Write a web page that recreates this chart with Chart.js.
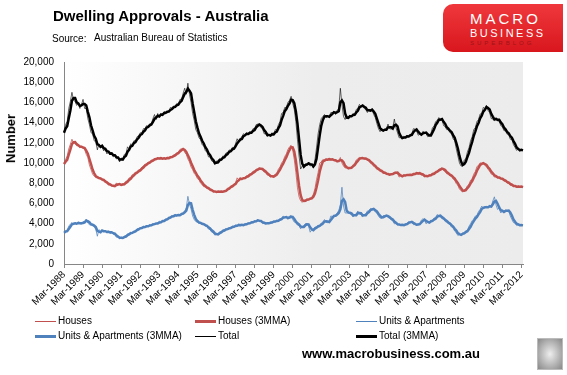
<!DOCTYPE html>
<html>
<head>
<meta charset="utf-8">
<script src="https://cdn.jsdelivr.net/npm/chart.js@4"></script>
<style>
  body { margin: 0; background: #fff; font-family: "Liberation Sans", Arial, sans-serif; }
  #wrap { position: relative; width: 567px; height: 375px; overflow: hidden; }
  #myChart { position: absolute; left: 0; top: 0; }
  .txt { position: absolute; white-space: nowrap; color: #000; }
  .leg { position: absolute; font-size: 10px; white-space: nowrap; }
  .leg span { display: inline-block; vertical-align: middle; width: 21px; margin-right: 2px; }
  #logo { position: absolute; left: 443px; top: 4px; width: 120px; height: 48px;
          background: linear-gradient(#f0383c, #d8171d); border-radius: 10px 0 0 10px; }
  #logo div { position: absolute; left: 27px; color: #fff; letter-spacing: 3px; }
</style>
</head>
<body>
<div id="wrap">
  <canvas id="myChart" width="567" height="375"></canvas>
  <div class="txt" style="left:53px;top:7px;font-size:15px;font-weight:bold;">Dwelling Approvals - Australia</div>
  <div class="txt" style="left:52px;top:33px;font-size:10px;">Source:</div>
  <div class="txt" style="left:94px;top:32px;font-size:10px;">Australian Bureau of Statistics</div>
  <div class="txt" style="left:-14px;top:131px;font-size:13px;font-weight:bold;transform:rotate(-90deg);">Number</div>
  <div id="logo">
    <div style="top:6px;font-size:15px;">MACRO</div>
    <div style="top:23px;font-size:11px;letter-spacing:2.5px;">BUSINESS</div>
    <div style="top:36px;font-size:6px;letter-spacing:3px;color:#a01418;">SUPERBLOG</div>
  </div>
  <div class="leg" style="left:35px;top:315px;"><span style="border-top:1px solid #c0504d;"></span>Houses</div>
  <div class="leg" style="left:195px;top:315px;"><span style="border-top:3px solid #c0504d;"></span>Houses (3MMA)</div>
  <div class="leg" style="left:356px;top:315px;"><span style="border-top:1px solid #4f81bd;"></span>Units &amp; Apartments</div>
  <div class="leg" style="left:35px;top:330px;"><span style="border-top:3px solid #4f81bd;"></span>Units &amp; Apartments (3MMA)</div>
  <div class="leg" style="left:195px;top:330px;"><span style="border-top:1px solid #000;"></span>Total</div>
  <div class="leg" style="left:356px;top:330px;"><span style="border-top:3px solid #000;"></span>Total (3MMA)</div>
  <div class="txt" style="left:302px;top:346px;font-size:13px;font-weight:bold;">www.macrobusiness.com.au</div>
  <div style="position:absolute;left:537px;top:338px;width:24px;height:30px;border:1px solid #bbb;background:radial-gradient(#eee,#888);"></div>
</div>

<script>
// Dwelling approvals, monthly, Mar-1988 to Apr-2012

// houses
const houses = [
  9900, 10350, 10700, 11400, 11850, 12350, 12000, 11900, 11700, 11700, 11500, 11650,
  11450, 11350, 10850, 10550, 9800, 9350, 8900, 8700, 8550, 8550, 8430, 8470,
  8250, 8250, 8050, 8000, 7800, 7850, 7700, 7700, 7750, 8030, 7850, 7870,
  7800, 7950, 7950, 8200, 8250, 8530, 8550, 8850, 8900, 9100, 9100, 9330,
  9350, 9600, 9700, 9900, 9900, 10100, 10080, 10300, 10300, 10450, 10410, 10530,
  10400, 10510, 10370, 10530, 10400, 10550, 10500, 10650, 10600, 10800, 10850, 11030,
  11050, 11350, 11400, 11400, 11050, 10850, 10400, 10100, 9600, 9350, 8950, 8800,
  8450, 8350, 8000, 7870, 7650, 7650, 7450, 7450, 7250, 7250, 7110, 7200,
  7100, 7210, 7130, 7200, 7110, 7300, 7300, 7530, 7530, 7750, 7770, 7950,
  8000, 8530, 8300, 8500, 8430, 8550, 8550, 8750, 8750, 8950, 8950, 9190,
  9200, 9400, 9400, 9520, 9350, 9350, 9100, 9050, 8800, 8750, 8600, 8700,
  8650, 8900, 9000, 9400, 9600, 10000, 10200, 10650, 10900, 11350, 11600, 11750,
  11300, 10350, 9050, 7550, 6650, 6250, 6100, 6350, 6300, 6450, 6400, 6550,
  6550, 6900, 7450, 8350, 9050, 10000, 10100, 10350, 10250, 10400, 10310, 10430,
  10300, 10350, 10200, 10250, 10080, 10250, 10550, 10000, 9700, 9500, 9550, 9420,
  9550, 9600, 9850, 9920, 10300, 10410, 10550, 10430, 10510, 10370, 10430, 10250,
  10200, 9950, 9900, 9650, 9600, 9350, 9350, 9150, 9150, 8950, 9030, 8850,
  8860, 8800, 8970, 8930, 9100, 9090, 8950, 8600, 8750, 8700, 8850, 8760,
  8850, 8800, 8850, 8800, 9000, 8930, 9050, 8900, 9030, 8800, 8800, 8600,
  8750, 8700, 8860, 8800, 9000, 9000, 9190, 9200, 9400, 9420, 9500, 9250,
  9150, 8930, 8900, 8700, 8700, 8400, 8300, 7940, 7800, 7400, 7300, 7110,
  7350, 7450, 7750, 7900, 8300, 8450, 8900, 9150, 9650, 9750, 10020, 9950,
  10000, 9750, 9650, 9350, 9200, 8900, 8850, 8600, 8650, 8500, 8530, 8400,
  8400, 8200, 8200, 8000, 8000, 7770, 7800, 7650, 7710, 7600, 7730, 7610,
  7670, 7540
];

// units & apartments
const units = [
  3100, 3300, 3350, 3750, 3950, 4100, 3900, 4100, 3950, 4150, 4000, 3950,
  4200, 4200, 4450, 4050, 3900, 3850, 3900, 3650, 3450, 2750, 3400, 3250,
  3300, 3200, 3250, 3100, 3250, 3050, 3150, 2950, 2900, 2650, 2650, 2500,
  2650, 2600, 2750, 2800, 3000, 3000, 3150, 3100, 3250, 3300, 3500, 3500,
  3600, 3600, 3750, 3650, 3800, 3750, 3900, 3850, 4000, 4000, 4000, 4050,
  4250, 4100, 4350, 4300, 4450, 4500, 4650, 4650, 4800, 4750, 4900, 4750,
  4900, 4850, 5050, 5050, 5250, 5550, 6700, 5900, 5450, 4750, 4400, 4200,
  4150, 4000, 4050, 3900, 3900, 3750, 3700, 3450, 3400, 3150, 3100, 2850,
  2950, 3000, 3200, 3200, 3400, 3350, 3500, 3500, 3600, 3600, 3750, 3700,
  3850, 3800, 3950, 3800, 3900, 3850, 4000, 3950, 4080, 4050, 4200, 4150,
  4300, 4250, 4400, 4200, 4200, 4000, 4050, 4000, 4080, 4000, 4150, 4150,
  4250, 4200, 4350, 4300, 4500, 4500, 4750, 4600, 4600, 4450, 4750, 4800,
  4400, 4150, 4080, 3850, 3800, 3480, 3700, 3800, 4000, 3980, 3750, 3150,
  3400, 3480, 3650, 3650, 3850, 3800, 4050, 4150, 4400, 4150, 4080, 4250,
  4750, 4700, 4850, 4800, 5050, 5300, 5850, 7600, 5750, 5050, 5050, 5200,
  4950, 4900, 4650, 4900, 4950, 5250, 4950, 4900, 4650, 4900, 4950, 5250,
  5250, 5500, 5450, 5400, 5150, 5050, 4750, 4550, 4550, 4800, 4800, 4800,
  4600, 4550, 4350, 4300, 3980, 4000, 3850, 3900, 3820, 3900, 3820, 4000,
  4000, 4200, 4150, 4150, 3900, 3900, 3850, 4000, 3980, 4350, 4480, 4350,
  3980, 4150, 4150, 4350, 4300, 4550, 4600, 4900, 4750, 4700, 4470, 4450,
  4200, 4150, 3980, 3900, 3650, 3580, 3250, 3100, 2820, 2950, 2900, 3100,
  3100, 3300, 3320, 3750, 3980, 4300, 4450, 4750, 4800, 5200, 5400, 5730,
  5550, 5550, 5750, 5550, 5850, 5650, 6250, 6650, 5850, 5400, 5550, 5050,
  5230, 5200, 5350, 5300, 5250, 4750, 4400, 4100, 4050, 3810, 3900, 3810,
  3850, 3810
];

// total
const total = [
  13000, 13800, 14100, 15400, 16100, 17000, 16200, 16100, 15700, 15900, 15400, 15800,
  16300, 15400, 15400, 14400, 13800, 13000, 12900, 12200, 12100, 11300, 11900, 11600,
  11600, 11200, 11400, 10900, 11100, 10800, 10950, 10600, 10750, 10400, 10500, 10100,
  10500, 10400, 10850, 10900, 11600, 11400, 11900, 11800, 12200, 12200, 12600, 12700,
  13000, 12900, 13400, 13400, 13700, 13600, 13900, 13900, 14400, 14800, 14300, 14900,
  14600, 14900, 14800, 15100, 15000, 15100, 15150, 15500, 15400, 15650, 15600, 15900,
  15800, 16300, 16300, 16900, 17400, 16800, 17900, 16800, 16000, 14900, 14200, 13300,
  13000, 12500, 12300, 11800, 11700, 11200, 11100, 10600, 10600, 10200, 10100, 9800,
  10200, 10200, 10450, 10350, 10700, 10650, 11000, 11000, 11300, 11200, 11550, 11500,
  11900, 12400, 12100, 12450, 12600, 12900, 12750, 13000, 12850, 13100, 13000, 13400,
  13400, 13800, 13850, 13800, 13500, 13400, 12900, 12900, 12600, 12850, 12700, 13000,
  12800, 13300, 13250, 13800, 14100, 14900, 15000, 15500, 15500, 16000, 16200, 16600,
  15900, 15300, 14100, 12300, 10700, 9400, 9700, 9800, 9900, 9850, 10100, 9700,
  9800, 9500, 10300, 11500, 12900, 13800, 14400, 14600, 14800, 14500, 14600, 14600,
  15000, 15000, 15100, 14800, 15200, 15400, 17400, 15800, 14600, 14300, 14600, 14500,
  14750, 14600, 14900, 14800, 15300, 15400, 15800, 15600, 15700, 15400, 15300, 15000,
  15350, 15200, 15300, 14800, 14500, 13900, 13400, 13100, 13400, 13150, 13350, 13400,
  13850, 13400, 13350, 13500, 14350, 13500, 13000, 12500, 12500, 12400, 12650, 12500,
  12750, 12600, 12850, 12900, 13400, 13350, 13200, 12750, 12850, 12800, 13150, 13000,
  12900, 12600, 12700, 12900, 13500, 13650, 14100, 14200, 14500, 14200, 14350, 13700,
  13600, 13300, 13300, 13000, 12900, 12400, 12200, 11400, 10700, 10000, 9700, 9700,
  10300, 10400, 11100, 11500, 12200, 12600, 13300, 13500, 14100, 14300, 14850, 14900,
  15500, 15400, 15700, 15200, 15000, 14400, 14350, 14200, 14500, 14150, 14200, 13700,
  13600, 13200, 13200, 12850, 12800, 12350, 12350, 11800, 11550, 11250, 11400, 11150,
  11350, 11250
];

// month labels, Mar-1988 onwards
const monthNames = ['Jan','Feb','Mar','Apr','May','Jun','Jul','Aug','Sep','Oct','Nov','Dec'];
const labels = [];
for (let i = 0; i < houses.length; i++) {
  const m = (2 + i) % 12;
  const y = 1988 + Math.floor((2 + i) / 12);
  labels.push(monthNames[m] + '-' + y);
}

// 3 month moving average of a monthly series
function mma3(arr) {
  return arr.map((v, i) => {
    const part = arr.slice(Math.max(0, i - 2), i + 1);
    return Math.round(part.reduce((a, b) => a + b, 0) / part.length);
  });
}

// grey gradient behind the plot
const plotBg = {
  id: 'plotBg',
  beforeDraw(chart) {
    const { ctx, chartArea: a } = chart;
    const g = ctx.createLinearGradient(a.left, 0, a.right, 0);
    g.addColorStop(0, '#ffffff');
    g.addColorStop(0.55, '#ededed');
    g.addColorStop(1, '#ececec');
    ctx.save();
    ctx.fillStyle = g;
    ctx.fillRect(a.left, a.top, a.right - a.left, a.bottom - a.top);
    ctx.restore();
  }
};

function line(label, data, color, width, order) {
  return { label: label, data: data, borderColor: color, borderWidth: width,
           pointRadius: 0, tension: 0, fill: false, order: order };
}

const data = {
  labels: labels,
  datasets: [
    line('Houses', houses, 'rgba(192,80,77,0.75)', 1, 1),
    line('Houses (3MMA)', mma3(houses), '#c0504d', 2.5, 2),
    line('Units & Apartments', units, 'rgba(79,129,189,0.75)', 1, 1),
    line('Units & Apartments (3MMA)', mma3(units), '#4f81bd', 2.5, 2),
    line('Total', total, 'rgba(0,0,0,0.6)', 1, 1),
    line('Total (3MMA)', mma3(total), '#000000', 2.5, 2)
  ]
};

const config = {
  type: 'line',
  data: data,
  plugins: [plotBg],
  options: {
    responsive: false,
    animation: false,
    layout: { padding: { left: 0, top: 62, right: 44, bottom: 61 } },
    plugins: { legend: { display: false }, tooltip: { enabled: false } },
    scales: {
      x: {
        type: 'category',
        offset: false,
        afterBuildTicks(scale) {
          scale.ticks = scale.ticks.filter(t => t.value % 12 === 0);
        },
        afterFit(scale) { scale.height = 50; },
        ticks: {
          autoSkip: false, minRotation: 45, maxRotation: 45, padding: 1,
          color: '#000', font: { family: 'Liberation Sans', size: 10 }
        },
        grid: { drawOnChartArea: false, tickLength: 4, color: '#868686' },
        border: { color: '#868686' }
      },
      y: {
        min: 0, max: 20000,
        afterFit(scale) { scale.width = 64; },
        ticks: {
          stepSize: 2000, padding: 10, color: '#000',
          font: { family: 'Liberation Sans', size: 10 },
          callback: v => v.toLocaleString('en-US')
        },
        grid: { drawOnChartArea: false, drawTicks: false, color: '#868686' },
        border: { color: '#868686' }
      }
    }
  }
};

const myChart = new Chart(document.getElementById('myChart'), config);
</script>
</body>
</html>
